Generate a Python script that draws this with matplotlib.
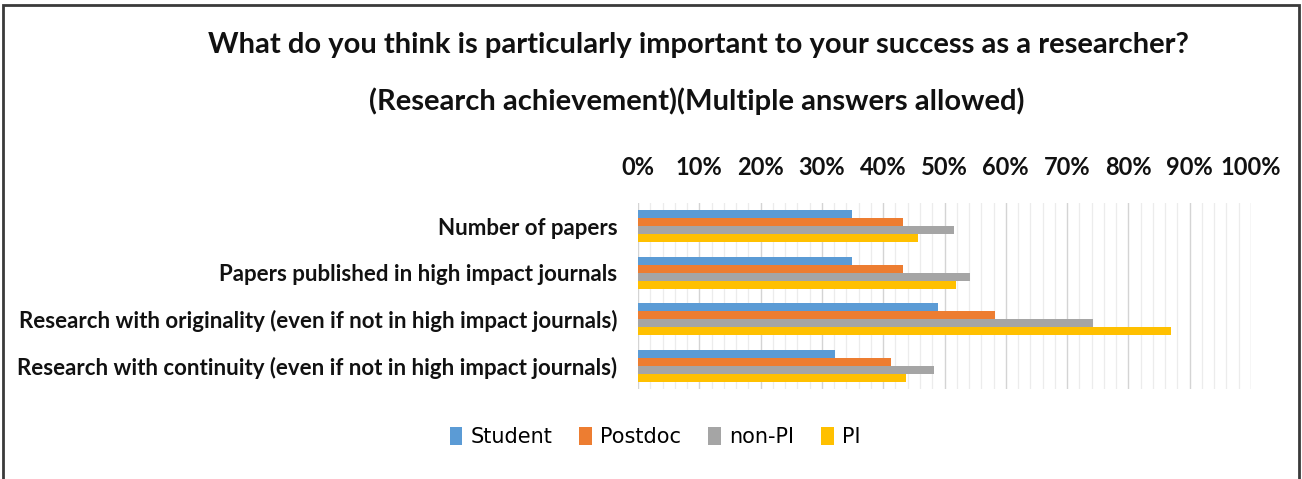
import matplotlib
matplotlib.use("Agg")
import matplotlib.pyplot as plt
import numpy as np
from matplotlib.ticker import MultipleLocator, PercentFormatter
from matplotlib.patches import Rectangle

categories = [
    "Number of papers",
    "Papers published in high impact journals",
    "Research with originality (even if not in high impact journals)",
    "Research with continuity (even if not in high impact journals)",
]
series_names = ["Student", "Postdoc", "non-PI", "PI"]
student = [34.9, 34.9, 49.0, 32.2]
postdoc = [43.2, 43.2, 58.3, 41.3]
non_pi = [51.5, 54.2, 74.2, 48.3]
pi = [45.7, 51.9, 86.9, 43.7]
colors = ["#5B9BD5", "#ED7D31", "#A5A5A5", "#FFC000"]
title_lines = [
    "What do you think is particularly important to your success as a researcher?",
    "(Research achievement)(Multiple answers allowed)",
]

W, H = 1302, 479
fig = plt.figure(figsize=(W / 100, H / 100), dpi=100)
fig.patch.set_facecolor("white")

ax = fig.add_axes([638 / W, 1 - 389 / H, (1251 - 638) / W, (389 - 203) / H])
series = [student, postdoc, non_pi, pi]
n = len(categories)
bh = 0.172
y = np.arange(n)
for i, (vals, c, name) in enumerate(zip(series, colors, series_names)):
    ax.barh(y + (i - 1.5) * bh, vals, height=bh, color=c, label=name, zorder=3)

ax.set_ylim(n - 0.5, -0.5)
ax.set_xlim(0, 100)
ax.set_yticks(y)
ax.set_yticklabels(categories, fontfamily="Lato", fontweight="bold", fontsize=16, color="#111111")
ax.xaxis.tick_top()
ax.xaxis.set_major_locator(MultipleLocator(10))
ax.xaxis.set_minor_locator(MultipleLocator(2))
ax.xaxis.set_major_formatter(PercentFormatter(decimals=0))
for lab in ax.get_xticklabels():
    lab.set_fontfamily("Lato")
    lab.set_fontweight("bold")
    lab.set_fontsize(17)
    lab.set_color("#111111")
ax.tick_params(axis="x", which="both", length=0, pad=17)
ax.tick_params(axis="y", length=0, pad=15)
ax.grid(axis="x", which="major", color="#d4d4d4", linewidth=1.0, zorder=0)
ax.grid(axis="x", which="minor", color="#ececec", linewidth=0.9, zorder=0)
for s in ax.spines.values():
    s.set_visible(False)

fig.text(698 / W, 1 - 45 / H, title_lines[0], ha="center", va="center",
         fontfamily="Lato", fontweight="bold", fontsize=21, color="#111111")
fig.text(697 / W, 1 - 101 / H, title_lines[1], ha="center", va="center",
         fontfamily="Lato", fontweight="bold", fontsize=21, color="#111111")

leg = fig.legend(loc="center", bbox_to_anchor=(655 / W, 1 - 437 / H), ncol=4, frameon=False,
                 handlelength=0.6, handleheight=1.0, handletextpad=0.4, columnspacing=1.3,
                 prop={"family": "DejaVu Sans", "size": 15})

fig.patches.append(Rectangle((3 / W, -0.02), (1299 - 3) / W, 1.02 - 5 / H, transform=fig.transFigure,
                             fill=False, edgecolor="#3a3a3a", linewidth=2.0))

fig.savefig("out.png", dpi=100)
